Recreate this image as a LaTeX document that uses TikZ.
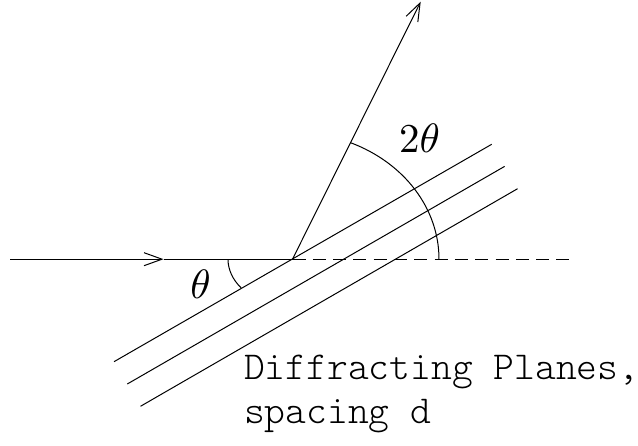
\RequirePackage{fix-cm}
\documentclass[tikz,border=0pt]{standalone}
\usepackage{fontspec}
\newfontfamily\lightmono{Latin Modern Mono Light}
\usetikzlibrary{arrows.meta}
\newcommand{\bigmath}[1]{\scalebox{4.1}{$#1$}}
\begin{document}
\begin{tikzpicture}[x=1pt,y=-1pt,
  ln/.style={line width=1pt, black},
  barb/.style={-{Straight Barb[length=18pt,width=13pt,line width=1pt]}},
  dashln/.style={ln, dash pattern=on 13pt off 7.3pt},
  angtext/.style={inner sep=0pt},
  monotext/.style={inner sep=0pt, align=left, anchor=base west,
    font=\lightmono\fontsize{39.6}{44}\selectfont}]
\useasboundingbox (0,0) rectangle (638,446);
% key points
\coordinate (O) at (292.5,259.2);
\coordinate (inStart) at (10,259.2);
\coordinate (inMid) at (163.5,259.2);
\coordinate (outTip) at (420.7,1.7);
\coordinate (dashEnd) at (570.5,259.2);
% planes
\coordinate (p1a) at (114,361.7);   \coordinate (p1b) at (491.7,144.3);
\coordinate (p2a) at (127.3,384);   \coordinate (p2b) at (504.6,166.4);
\coordinate (p3a) at (140.5,406.3); \coordinate (p3b) at (517.6,188.7);
% beams
\draw[ln,barb] (inStart) -- (inMid);
\draw[ln] (inMid) -- (O);
\draw[ln,barb] (O) -- (outTip);
\draw[dashln] (O) -- (dashEnd);
% planes
\draw[ln] (p1a) -- (p1b);
\draw[ln] (p2a) -- (p2b);
\draw[ln] (p3a) -- (p3b);
% angle arcs
\draw[ln] (O) ++(146.5,0) arc[start angle=0, end angle=-66.6, x radius=146.5, y radius=126.9];
\draw[ln] (O) ++(-64.5,0) arc[start angle=180, end angle=142.7, x radius=64.5, y radius=47.4];
% labels
\node[angtext] (theta) at (200.5,284.2) {\bigmath{\theta}};
\node[angtext] (twotheta) at (419.5,138.3) {\bigmath{2\theta}};
\node[monotext] (planes) at (244,423.3) {Diffracting Planes,\\spacing d};
\end{tikzpicture}
\end{document}
